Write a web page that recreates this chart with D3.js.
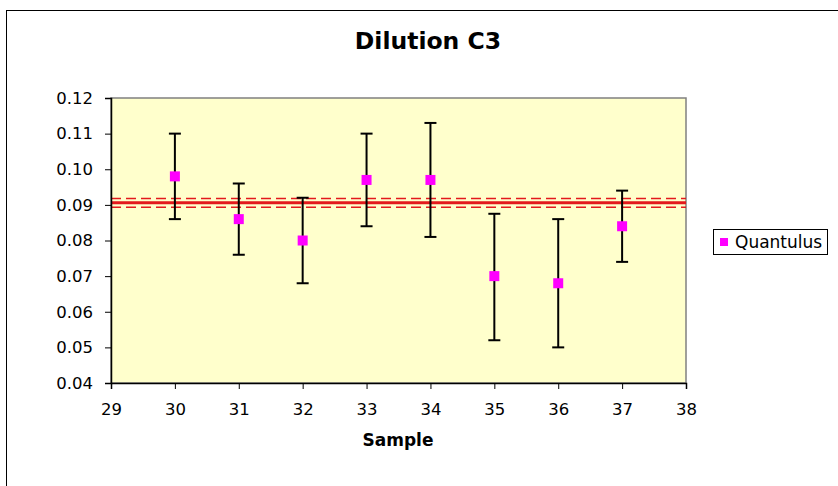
<!DOCTYPE html>
<html><head><meta charset="utf-8">
<script src="https://cdn.jsdelivr.net/npm/d3@7"></script>
<style>body{margin:0;background:#fff}svg{display:block}text{font-family:"DejaVu Sans",Verdana,sans-serif}</style>
</head><body><svg id="c" width="838" height="486"></svg>
<script>
const samples = [30, 31, 32, 33, 34, 35, 36, 37];
const values  = [0.098, 0.086, 0.080, 0.097, 0.097, 0.070, 0.068, 0.084];
const lows    = [0.086, 0.076, 0.068, 0.084, 0.081, 0.052, 0.050, 0.074];
const highs   = [0.110, 0.096, 0.092, 0.110, 0.113, 0.0875, 0.086, 0.094];
const refMean = 0.0906;
const refBand = [0.0893, 0.0918];
const xTicks = [29, 30, 31, 32, 33, 34, 35, 36, 37, 38];
const yTicks = [0.04, 0.05, 0.06, 0.07, 0.08, 0.09, 0.10, 0.11, 0.12];
const seriesName = "Quantulus";

const svg = d3.select("#c");
const L = 111, R = 686, T = 98, B = 383;
const x = d3.scaleLinear().domain([29, 38]).range([L, R]);
const y = d3.scaleLinear().domain([0.04, 0.12]).range([B, T]);

// outer chart border
svg.append("rect").attr("x", 6.5).attr("y", 10.5).attr("width", 840).attr("height", 490)
  .attr("fill", "#fff").attr("stroke", "#000").attr("stroke-width", 1);

// plot area
svg.append("rect").attr("x", L).attr("y", T).attr("width", R - L).attr("height", B - T)
  .attr("fill", "#FFFFCC").attr("stroke", "#808080").attr("stroke-width", 1.5);

// reference lines
const gl = svg.append("g");
gl.append("line").attr("x1", L).attr("x2", R).attr("y1", y(refMean)).attr("y2", y(refMean))
  .attr("stroke", "#E3191C").attr("stroke-width", 3);
refBand.forEach(v => gl.append("line").attr("x1", L).attr("x2", R).attr("y1", y(v)).attr("y2", y(v))
  .attr("stroke", "#E3191C").attr("stroke-width", 1.5).attr("stroke-dasharray", "10,5"));

// axes
const yAxis = svg.append("g").attr("transform", `translate(${L},0)`)
  .call(d3.axisLeft(y).tickValues(yTicks).tickFormat(d3.format(".2f")).tickSize(6).tickPadding(12));
const xAxis = svg.append("g").attr("transform", `translate(0,${B})`)
  .call(d3.axisBottom(x).tickValues(xTicks).tickFormat(d3.format("d")).tickSize(6).tickPadding(14));
[yAxis, xAxis].forEach(a => {
  a.attr("font-size", null).attr("font-family", null);
  a.select(".domain").attr("stroke", "#000").attr("stroke-width", 1.5);
  a.selectAll(".tick line").attr("stroke", "#000");
  a.selectAll("text").style("font-size", "16.5px").attr("fill", "#000");
});

// error bars
const eb = svg.append("g").attr("stroke", "#000").attr("stroke-width", 2);
samples.forEach((s, i) => {
  const cx = x(s);
  eb.append("line").attr("x1", cx).attr("x2", cx).attr("y1", y(lows[i])).attr("y2", y(highs[i]));
  eb.append("line").attr("x1", cx - 6).attr("x2", cx + 6).attr("y1", y(lows[i])).attr("y2", y(lows[i]));
  eb.append("line").attr("x1", cx - 6).attr("x2", cx + 6).attr("y1", y(highs[i])).attr("y2", y(highs[i]));
});

// markers
svg.append("g").selectAll("rect").data(samples).join("rect")
  .attr("x", d => x(d) - 5).attr("y", (d, i) => y(values[i]) - 5)
  .attr("width", 10).attr("height", 10).attr("fill", "#FF00FF");

// title
svg.append("text").attr("x", 428).attr("y", 49).attr("text-anchor", "middle")
  .style("font-size", "23.5px").attr("font-weight", "bold").text("Dilution C3");
svg.append("text").attr("x", 398).attr("y", 446).attr("text-anchor", "middle")
  .style("font-size", "17px").attr("font-weight", "bold").text("Sample");

// legend
const lg = svg.append("g");
lg.append("rect").attr("x", 713.5).attr("y", 229.5).attr("width", 114).attr("height", 25)
  .attr("fill", "#fff").attr("stroke", "#000").attr("stroke-width", 1);
lg.append("rect").attr("x", 720).attr("y", 238).attr("width", 8).attr("height", 8).attr("fill", "#FF00FF");
lg.append("text").attr("x", 735).attr("y", 248).style("font-size", "17px").text(seriesName);
</script></body></html>
